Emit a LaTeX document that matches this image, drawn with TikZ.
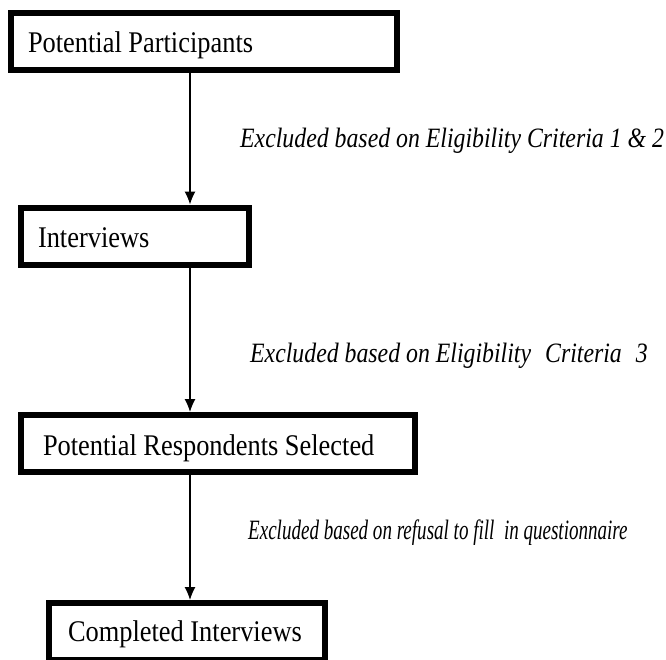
\documentclass[tikz,border=0pt]{standalone}
\usepackage{fontspec}
\setmainfont{Liberation Serif}
\newfontfamily\boxfont[FakeStretch=0.88]{Liberation Serif}
\newfontfamily\notefont[FakeStretch=0.85]{Liberation Serif}
\newfontfamily\smallnotefont[FakeStretch=0.68]{Liberation Serif}
\usetikzlibrary{calc,positioning,arrows.meta}

\begin{document}
\begin{tikzpicture}[x=1pt,y=-1pt,
  stage/.style={draw,line width=6pt,minimum height=57pt,inner ysep=0pt,
    text depth=6pt,align=flush left,font=\boxfont\fontsize{30}{36}\selectfont},
  flow/.style={line width=1.2pt,-{Latex[length=13pt,width=11pt]}},
  note/.style={anchor=base west,inner sep=0pt,font=\notefont\itshape\fontsize{28}{34}\selectfont}]

\clip (0,0) rectangle (666,659);

\coordinate (spine) at (190,0); %linia strzalek

\node[stage,minimum width=386pt,text width=352pt,inner xsep=17pt,text height=27pt]
  (part) at (204,41.5) {Potential Participants};
\node[stage,minimum width=228pt,text width=194pt,inner xsep=17pt,text height=28pt]
  (intv) at (135,236) {Interviews};
\node[stage,minimum width=394pt,text width=350pt,inner xsep=22pt,text height=29pt]
  (resp) at (218,443.5) {Potential Respondents Selected};
\node[stage,minimum width=276pt,text width=238pt,inner xsep=19pt,text height=26pt]
  (done) at (187,631.5) {Completed Interviews};

\draw[flow] (part.south -| spine) -- (intv.north -| spine);
\draw[flow] (intv.south -| spine) -- (resp.north -| spine);
\draw[flow] (resp.south -| spine) -- (done.north -| spine);

\node[note] (ex1) at (240,147) {Excluded based on Eligibility Criteria 1 \& 2};
\node[note] (ex2) at (250,362) {Excluded based on Eligibility\hspace{14pt}Criteria\hspace{14pt}3};
\node[note,font=\smallnotefont\itshape\fontsize{28}{34}\selectfont]
  (ex3) at (248,539) {Excluded based on refusal to fill\ \ in questionnaire};
\end{tikzpicture}
\end{document}
